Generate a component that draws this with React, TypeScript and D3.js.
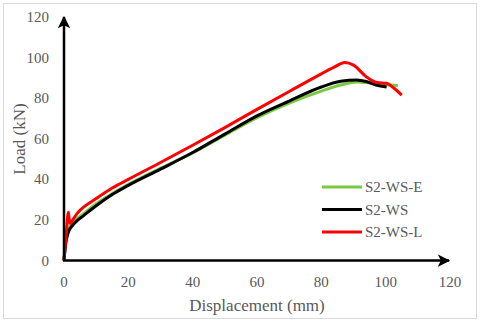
import React, { useEffect, useRef } from 'react';
import * as d3 from 'd3';

// S2-WS-E (green)
const dispE = [0, 0.3, 0.6, 1, 1.5, 2.5, 4, 6, 10, 15, 20, 30, 40, 50, 60, 70, 80, 86, 91, 95, 100, 103.8];
const loadE = [0, 6, 10, 13, 15.5, 18, 20.5, 23, 28, 33, 37.5, 45.5, 53, 61.8, 70.4, 77.6, 83.5, 86.5, 88, 87.6, 86.6, 86.3];

// S2-WS (black)
const dispW = [0, 0.3, 0.6, 1, 1.5, 2.5, 4, 6, 10, 15, 20, 30, 40, 50, 60, 70, 80, 86, 91, 94, 97, 100.3];
const loadW = [0, 5, 9, 12, 14.5, 17, 19.5, 22, 27, 32.5, 37, 45, 53.2, 62.3, 71.3, 78.6, 85.5, 88.3, 89, 88.2, 86.5, 85.5];

// S2-WS-L (red)
const dispL = [0, 0.4, 0.8, 1.1, 1.35, 1.6, 1.9, 2.5, 4, 5.5, 10, 15, 20, 30, 40, 50, 60, 70, 80, 84, 87.3, 90, 94, 97.2, 100.3, 102.5, 105];
const loadL = [0, 8, 15, 21, 23.8, 20.5, 18.2, 19.5, 23, 25.5, 30.5, 35.7, 40, 48.3, 56.8, 65.5, 74.5, 83.3, 92, 95.3, 97.6, 96.3, 90.5, 87.7, 87.3, 85, 81.5];

const xTicks = [0, 20, 40, 60, 80, 100, 120];
const yTicks = [0, 20, 40, 60, 80, 100, 120];

const series = [
  { name: 'S2-WS-E', color: '#7ac943', x: dispE, y: loadE },
  { name: 'S2-WS', color: '#000000', x: dispW, y: loadW },
  { name: 'S2-WS-L', color: '#ff0000', x: dispL, y: loadL },
];

export default function App() {
  const ref = useRef<SVGSVGElement>(null);

  useEffect(() => {
    const svg = d3.select(ref.current);
    svg.selectAll('*').remove();

    const width = 480;
    const height = 322;
    const font = "'Liberation Serif', 'DejaVu Serif', serif";
    const grey = '#595959';

    const x = d3.scaleLinear().domain([0, 120]).range([64, 450]);
    const y = d3.scaleLinear().domain([0, 120]).range([260.5, 17]);

    svg.append('rect')
      .attr('x', 3.5).attr('y', 3.5)
      .attr('width', width - 7).attr('height', height - 7)
      .attr('fill', '#fff')
      .attr('stroke', '#d9d9d9')
      .attr('stroke-width', 1);

    const defs = svg.append('defs');
    defs.append('marker')
      .attr('id', 'arrow')
      .attr('viewBox', '0 0 10 10')
      .attr('refX', 9).attr('refY', 5)
      .attr('markerWidth', 5).attr('markerHeight', 5)
      .attr('markerUnits', 'strokeWidth')
      .attr('orient', 'auto')
      .append('path')
      .attr('d', 'M0,0 L10,5 L0,10 L2.5,5 Z')
      .attr('fill', '#000');

    const g = svg.append('g')
      .attr('font-family', font)
      .attr('fill', grey);

    // tick labels
    g.append('g').selectAll('text')
      .data(xTicks)
      .enter()
      .append('text')
      .attr('x', (d) => x(d))
      .attr('y', 287)
      .attr('text-anchor', 'middle')
      .attr('font-size', 15)
      .text((d) => d);

    g.append('g').selectAll('text')
      .data(yTicks)
      .enter()
      .append('text')
      .attr('x', 49)
      .attr('y', (d) => y(d) + 5)
      .attr('text-anchor', 'end')
      .attr('font-size', 15)
      .text((d) => d);

    // axis titles
    g.append('text')
      .attr('x', 257)
      .attr('y', 311)
      .attr('text-anchor', 'middle')
      .attr('font-size', 17)
      .text('Displacement (mm)');

    g.append('text')
      .attr('transform', 'translate(25,139) rotate(-90)')
      .attr('text-anchor', 'middle')
      .attr('font-size', 17)
      .text('Load (kN)');

    // curves
    const line = d3.line<[number, number]>()
      .x((d) => x(d[0]))
      .y((d) => y(d[1]))
      .curve(d3.curveMonotoneX);

    series.forEach((s) => {
      const pts = s.x.map((v, i) => [v, s.y[i]] as [number, number]);
      svg.append('path')
        .datum(pts)
        .attr('d', line)
        .attr('fill', 'none')
        .attr('stroke', s.color)
        .attr('stroke-width', 3)
        .attr('stroke-linejoin', 'round');
    });

    // axes with arrows
    svg.append('line')
      .attr('x1', x(0)).attr('y1', y(0))
      .attr('x2', x(0)).attr('y2', 17)
      .attr('stroke', '#000').attr('stroke-width', 2.5)
      .attr('marker-end', 'url(#arrow)');

    svg.append('line')
      .attr('x1', x(0) - 1).attr('y1', y(0))
      .attr('x2', 449).attr('y2', y(0))
      .attr('stroke', '#000').attr('stroke-width', 2.5)
      .attr('marker-end', 'url(#arrow)');

    // legend
    const legend = svg.append('g');
    series.forEach((s, i) => {
      const ly = 187 + i * 22.5;
      legend.append('line')
        .attr('x1', 322).attr('x2', 362)
        .attr('y1', ly).attr('y2', ly)
        .attr('stroke', s.color)
        .attr('stroke-width', 3);
      legend.append('text')
        .attr('x', 365)
        .attr('y', ly + 5)
        .attr('font-family', font)
        .attr('font-size', 15)
        .attr('fill', grey)
        .text(s.name);
    });
  }, []);

  return (
    <svg ref={ref} width={480} height={322} style={{ position: 'absolute', left: 0, top: 0 }} />
  );
}
